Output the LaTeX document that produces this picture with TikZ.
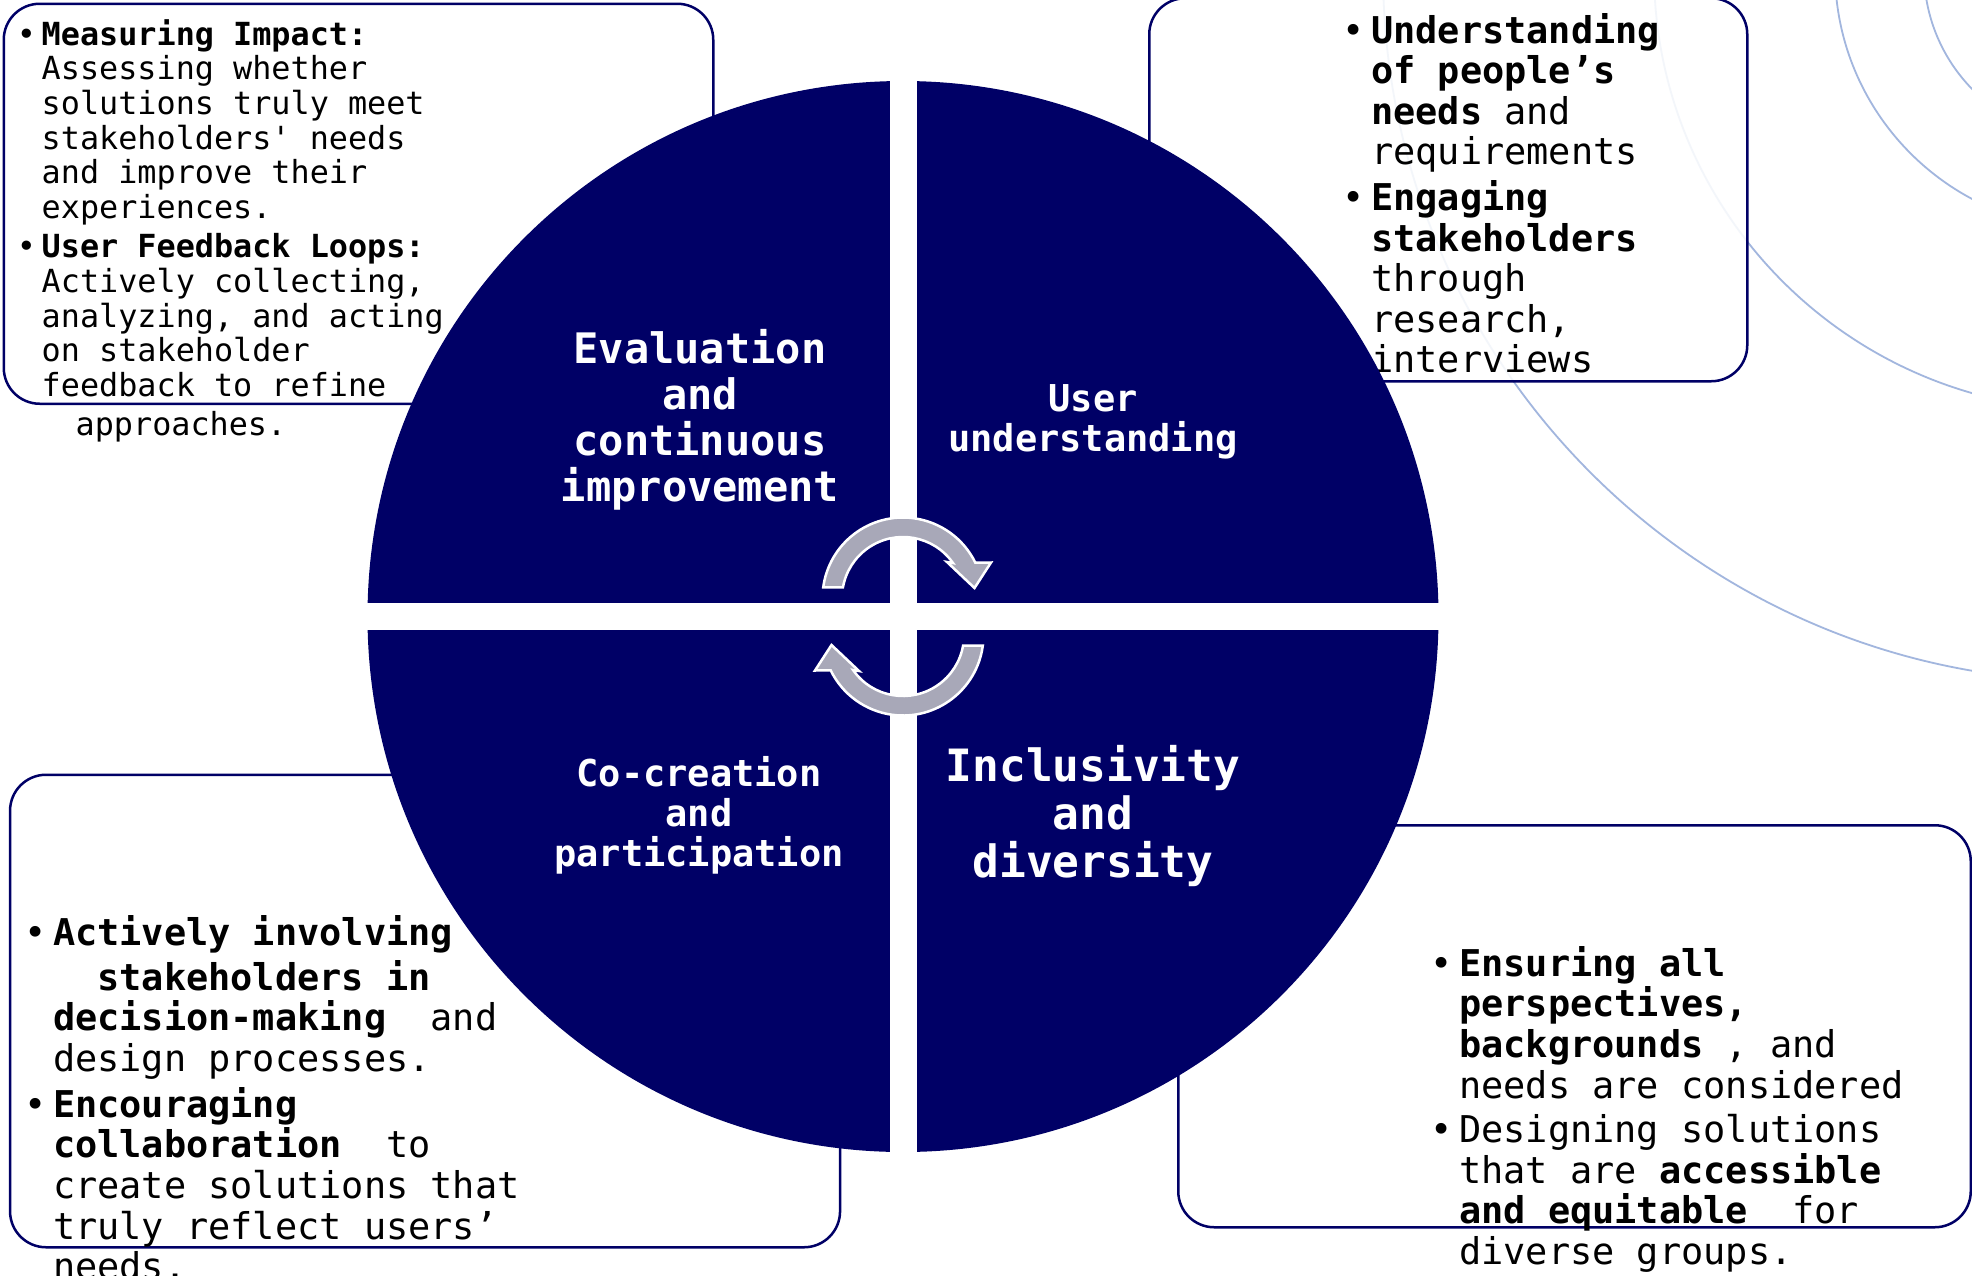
\documentclass[tikz,border=0pt]{standalone}
\usepackage{fontspec}
\setmonofont{DejaVu Sans Mono}
\definecolor{navy}{RGB}{0,0,102}
\definecolor{arcblue}{RGB}{162,182,222}
\definecolor{arrowgray}{RGB}{168,168,184}
\newcommand{\llines}[1]{\vtop{\lineskiplimit=-1000pt\lineskip=0pt\halign{##\hfil\cr#1\crcr}}}
\newcommand{\clines}[1]{\vtop{\lineskiplimit=-1000pt\lineskip=0pt\halign{\hfil##\hfil\cr#1\crcr}}}
\newcommand{\bu}{\rlap{\kern-0.18em\mdseries•}\phantom{•}}
\newcommand{\ci}{\phantom{•}}
\tikzset{
  boxstyle/.style={draw=navy, line width=2.5pt, rounded corners=36pt, fill=white, fill opacity=0.88, draw opacity=1, inner sep=0pt, anchor=north west},
  txt/.style={anchor=base west, inner sep=0pt, text=black},
  lbl/.style={anchor=base, inner sep=0pt, text=white},
  arcline/.style={draw=arcblue, line width=1.8pt},
  cyc/.style={fill=arrowgray, draw=white, line width=2.5pt, line join=miter},
  smallfont/.style={font=\ttfamily\fontsize{31.8}{34.7}\selectfont},
  bigfont/.style={font=\ttfamily\fontsize{36.9}{40.6}\selectfont},
}
\begin{document}
\begin{tikzpicture}[x=1pt,y=-1pt]
\useasboundingbox (0,0) rectangle (1972,1275);
\clip (0,0) rectangle (1972,1275);
\fill[white] (0,0) rectangle (1972,1275);

% background concentric arcs
\foreach \r in {169,258,439,710} {\draw[arcline] (2093,-29) circle[radius=\r];}

% boxes
\node[boxstyle, minimum width=709.5, minimum height=400] (tlbox) at (2.5,2.5) {};
\node[boxstyle, minimum width=598, minimum height=383] (trbox) at (1148,-3) {};
\node[boxstyle, minimum width=830, minimum height=472.5] (blbox) at (8.8,773.5) {};
\node[boxstyle, minimum width=792.5, minimum height=402] (brbox) at (1177,824) {};

% top-left text
\node[txt, smallfont] (tl1) at (22.4,45) {\llines{\bu\textbf{Measuring Impact:}\cr
\ci Assessing whether\cr
\ci solutions truly meet\cr
\ci stakeholders' needs\cr
\ci and improve their\cr
\ci experiences.}};
\node[txt, smallfont] (tl2) at (22.4,257.8) {\llines{\bu\textbf{User Feedback Loops:}\cr
\ci Actively collecting,\cr
\ci analyzing, and acting\cr
\ci on stakeholder\cr
\ci feedback to refine}};
\node[txt, smallfont] (tl3) at (75.5,435.9) {approaches.};

% top-right text
\node[txt, bigfont] (tr1) at (1348.8,43.1) {\llines{\bu\textbf{Understanding}\cr
\ci\textbf{of people’s}\cr
\ci\textbf{needs} and\cr
\ci requirements}};
\node[txt, bigfont] (tr2) at (1348.8,210.4) {\llines{\bu\textbf{Engaging}\cr
\ci\textbf{stakeholders}\cr
\ci through\cr
\ci research,\cr
\ci interviews}};

% bottom-left text
\node[txt, bigfont] (bl1) at (30.6,945) {\bu\textbf{Actively involving}};
\node[txt, bigfont] (bl2) at (30.6,990.2) {\llines{\ci\phantom{••}\textbf{stakeholders in}\cr
\ci\textbf{decision-making}\ \ and\cr
\ci design processes.}};
\node[txt, bigfont] (bl3) at (30.6,1117.2) {\llines{\bu\textbf{Encouraging}\cr
\ci\textbf{collaboration}\ \ to\cr
\ci create solutions that\cr
\ci truly reflect users’\cr
\ci needs.}};

% bottom-right text
\node[txt, bigfont] (br1) at (1436.8,976.3) {\llines{\bu\textbf{Ensuring all}\cr
\ci\textbf{perspectives,}\cr
\ci\textbf{backgrounds} , and\cr
\ci needs are considered}};
\node[txt, bigfont] (br2) at (1436.8,1142.4) {\llines{\bu Designing solutions\cr
\ci that are \textbf{accessible}\cr
\ci\textbf{and equitable}\ \ for\cr
\ci diverse groups.}};

% central disc
\node[circle, fill=navy, inner sep=0pt, minimum size=1071] (disc) at (903,616.5) {};
\fill[white] (889.5,70) rectangle (916.5,1165);
\fill[white] (355,602.5) rectangle (1450,629.5);

% quadrant labels
\node[lbl, font=\ttfamily\bfseries\fontsize{42}{46}\selectfont] (eval) at (700,363) {\clines{Evaluation\cr and\cr continuous\cr improvement}};
\node[lbl, font=\ttfamily\bfseries\fontsize{37}{40.6}\selectfont] (user) at (1093,411) {\clines{User\cr understanding}};
\node[lbl, font=\ttfamily\bfseries\fontsize{44.5}{48}\selectfont] (incl) at (1093,781) {\clines{Inclusivity\cr and\cr diversity}};
\node[lbl, font=\ttfamily\bfseries\fontsize{37}{40}\selectfont] (cocr) at (699,786) {\clines{Co-creation\cr and\cr participation}};

% circular arrows
\begin{scope}[shift={(903,598)}, yscale=-1]
\draw[cyc] (172.36:80.5) arc[start angle=172.36, end angle=26, radius=80.5] -- (88,35.5) -- (71.5,10) -- (44,36) -- (35:61) arc[start angle=35, end angle=169.9, radius=61] -- cycle;
\end{scope}
\begin{scope}[shift={(903,635)}, xscale=-1]
\draw[cyc] (172.36:80.5) arc[start angle=172.36, end angle=26, radius=80.5] -- (88,35.5) -- (71.5,10) -- (44,36) -- (35:61) arc[start angle=35, end angle=169.9, radius=61] -- cycle;
\end{scope}
\end{tikzpicture}
\end{document}
